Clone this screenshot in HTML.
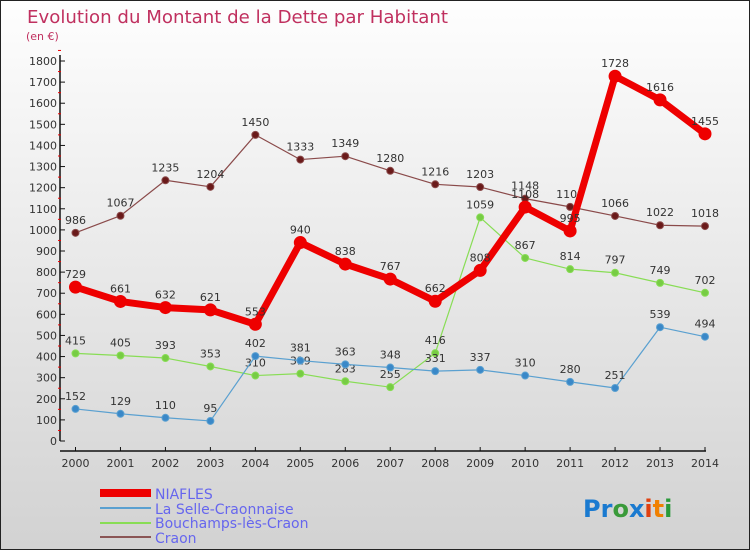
<!DOCTYPE html>
<html><head><meta charset="utf-8"><style>
body{margin:0;}
#c{width:750px;height:550px;position:relative;box-sizing:border-box;border:1px solid #222;background:linear-gradient(#fefefe,#d2d2d2);font-family:"DejaVu Sans","Liberation Sans",sans-serif;}
svg text{font-family:"DejaVu Sans","Liberation Sans",sans-serif;}
</style></head><body>
<div id="c">
<svg id="s" width="750" height="550" style="position:absolute;left:-1px;top:-1px">
<text x="27" y="23" font-size="18" fill="#c0305f" textLength="421" lengthAdjust="spacingAndGlyphs">Evolution du Montant de la Dette par Habitant</text>
<text x="26" y="40" font-size="11" fill="#c0305f">(en €)</text>
<g id="axes"></g><g id="series"></g>
<g>
<rect x="100" y="489" width="51" height="8" fill="#e00"/>
<text x="155" y="499" font-size="14" fill="#6666ee">NIAFLES</text>
<line x1="100" y1="508" x2="151" y2="508" stroke="#5aa0d0" stroke-width="2"/>
<text x="155" y="514" font-size="14" fill="#6666ee">La Selle-Craonnaise</text>
<line x1="100" y1="523" x2="151" y2="523" stroke="#88dd55" stroke-width="2"/>
<text x="155" y="528" font-size="14" fill="#6666ee">Bouchamps-lès-Craon</text>
<line x1="100" y1="537" x2="151" y2="537" stroke="#8a5555" stroke-width="2"/>
<text x="155" y="543" font-size="14" fill="#6666ee">Craon</text>
</g>
<g font-size="24" font-weight="bold">
<text x="583" y="517"><tspan fill="#1a7ad0">Pr</tspan><tspan fill="#3a9a3a">o</tspan><tspan fill="#1a7ad0">x</tspan><tspan fill="#e04010">i</tspan><tspan fill="#f08000">t</tspan><tspan fill="#2a9a3a">i</tspan></text>
</g>
</svg>
</div>
<script>
const years=[2000,2001,2002,2003,2004,2005,2006,2007,2008,2009,2010,2011,2012,2013,2014];
const yTicks=[0,100,200,300,400,500,600,700,800,900,1000,1100,1200,1300,1400,1500,1600,1700,1800];
const niafles=[729,661,632,621,553,940,838,767,662,808,1108,995,1728,1616,1455];
const selle=[152,129,110,95,402,381,363,348,331,337,310,280,251,539,494];
const bouchamps=[415,405,393,353,310,319,283,255,416,1059,867,814,797,749,702];
const craon=[986,1067,1235,1204,1450,1333,1349,1280,1216,1203,1148,1109,1066,1022,1018];
const NS="http://www.w3.org/2000/svg";
function X(i){return 75.5+i*(705-75.5)/(years.length-1);}
function Y(v){return 441-v*(380/1800);}
function mk(t,a,p){const e=document.createElementNS(NS,t);for(const k in a)e.setAttribute(k,a[k]);p.appendChild(e);return e;}
const ax=document.getElementById('axes');
mk('line',{x1:60,y1:55,x2:60,y2:441,stroke:'#111','stroke-width':1.5},ax);
mk('line',{x1:60,y1:451,x2:706,y2:451,stroke:'#111','stroke-width':1.5},ax);
yTicks.forEach(v=>{
 mk('line',{x1:60,y1:Y(v),x2:65,y2:Y(v),stroke:'#111'},ax);
 mk('line',{x1:58,y1:Y(v+50),x2:61,y2:Y(v+50),stroke:'#e00'},ax);
 const t=mk('text',{x:57,y:Y(v)+4,'font-size':11,'text-anchor':'end',fill:'#333'},ax);t.textContent=v;
 
 
});
years.forEach((yr,i)=>{
 mk('line',{x1:X(i),y1:447,x2:X(i),y2:451,stroke:'#111'},ax);
 const t=mk('text',{x:X(i),y:467,'font-size':11,'text-anchor':'middle',fill:'#333'},ax);t.textContent=yr;
 
 
});
const sg=document.getElementById('series');
function draw(vals,col,dot,w,r,name){
 const g=mk('g',{},sg);
 
 
 mk('polyline',{points:vals.map((v,i)=>X(i)+','+Y(v)).join(' '),fill:'none',stroke:col,'stroke-width':w,'stroke-linejoin':'round'},g);
 vals.forEach((v,i)=>{
  const c=mk('circle',{cx:X(i),cy:Y(v),r:r,fill:dot,stroke:col,'stroke-width':1},g);
  
  
  const t=mk('text',{x:X(i),y:Y(v)-9,'font-size':11,'text-anchor':'middle',fill:'#333'},g);t.textContent=v;
  
  
 });
}
draw(craon,'#8a4a4a','#6a1a1a',1.2,3.5,'craon');
draw(bouchamps,'#88dd55','#77cc44',1.2,3.5,'bouchamps');
draw(selle,'#5aa0d0','#3a88c8',1.2,3.5,'la-selle');
draw(niafles,'#ee0000','#ee0000',7,6,'niafles');
</script>
</body></html>
